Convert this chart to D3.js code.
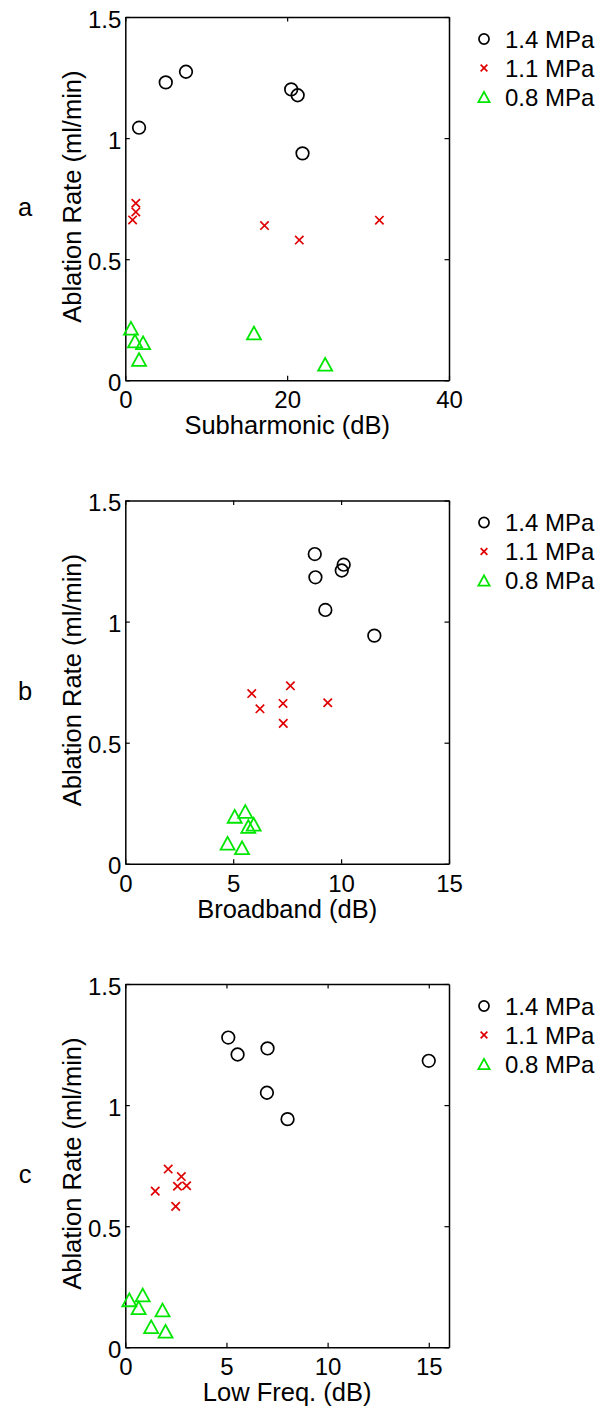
<!DOCTYPE html>
<html><head><meta charset="utf-8">
<script src="https://cdn.jsdelivr.net/npm/d3@7"></script>
<style>
body{margin:0;background:#fff}
svg{display:block}
text{font-family:"Liberation Sans",Arial,Helvetica,sans-serif;fill:#000}
</style>
</head><body>
<svg id="chart" width="611" height="1410"></svg>
<script>
// ---------- data ----------
const seriesLabels = ["1.4 MPa", "1.1 MPa", "0.8 MPa"];
const panelLetters = ["a", "b", "c"];
const xAxisLabels = ["Subharmonic (dB)", "Broadband (dB)", "Low Freq. (dB)"];
const yAxisLabel = "Ablation Rate (ml/min)";
const xDomains = [[0, 40], [0, 15], [0, 16]];
const xTickValues = [[0, 20, 40], [0, 5, 10, 15], [0, 5, 10, 15]];
const yTickValues = [0, 0.5, 1, 1.5];
const yTickLabels = ["0", "0.5", "1", "1.5"];

// panel a : Subharmonic
const subX_14 = [1.7, 5.0, 7.5, 20.5, 21.3, 21.9];
const subY_14 = [1.043, 1.230, 1.274, 1.201, 1.177, 0.937];
const subX_11 = [1.3, 1.3, 0.9, 17.2, 21.5, 31.4];
const subY_11 = [0.731, 0.695, 0.662, 0.639, 0.579, 0.661];
const subX_08 = [0.7, 1.2, 2.2, 1.7, 15.9, 24.7];
const subY_08 = [0.215, 0.162, 0.155, 0.086, 0.195, 0.066];

// panel b : Broadband
const bbX_14 = [8.78, 8.81, 10.12, 10.03, 9.27, 11.54];
const bbY_14 = [1.279, 1.183, 1.235, 1.211, 1.048, 0.942];
const bbX_11 = [5.86, 7.65, 6.24, 7.31, 7.32, 9.38];
const bbY_11 = [0.703, 0.735, 0.640, 0.662, 0.580, 0.665];
const bbX_08 = [5.07, 5.56, 5.95, 5.70, 4.74, 5.41];
const bbY_08 = [0.196, 0.216, 0.163, 0.154, 0.085, 0.066];

// panel c : Low Freq.
const lfX_14 = [5.09, 5.55, 7.03, 7.00, 8.02, 15.0];
const lfY_14 = [1.279, 1.209, 1.234, 1.051, 0.942, 1.183];
const lfX_11 = [2.12, 2.77, 1.48, 2.58, 3.03, 2.49];
const lfY_11 = [0.736, 0.705, 0.645, 0.665, 0.667, 0.582];
const lfX_08 = [0.20, 0.86, 0.66, 1.84, 1.28, 1.99];
const lfY_08 = [0.196, 0.216, 0.163, 0.154, 0.085, 0.066];

const panelData = [
  [[subX_14, subY_14], [subX_11, subY_11], [subX_08, subY_08]],
  [[bbX_14, bbY_14], [bbX_11, bbY_11], [bbX_08, bbY_08]],
  [[lfX_14, lfY_14], [lfX_11, lfY_11], [lfX_08, lfY_08]]
];

// ---------- styling / layout ----------
const colors = ["#000000", "#e00000", "#00e600"];
const markers = ["circle", "cross", "triangle"];
const FONT = 24, LABEL_FONT = 25.5;
const left = 125.3, right = 449, plotH = 363.3;
const panelTops = [17, 500.5, 984];

const svg = d3.select("#chart");
svg.append("rect").attr("width", 611).attr("height", 1410).attr("fill", "#fff");

function drawMarker(g, type, cx, cy, color, s) {
  if (type === "circle") {
    g.append("circle").attr("cx", cx).attr("cy", cy).attr("r", 6.3 * s)
      .attr("fill", "none").attr("stroke", color).attr("stroke-width", 1.7);
  } else if (type === "cross") {
    const h = 4.2 * s;
    g.append("path")
      .attr("d", `M${cx - h},${cy - h}L${cx + h},${cy + h}M${cx - h},${cy + h}L${cx + h},${cy - h}`)
      .attr("fill", "none").attr("stroke", color).attr("stroke-width", 1.7);
  } else {
    const w = 7 * s, hh = 6.4 * s;
    g.append("path")
      .attr("d", `M${cx},${cy - hh}L${cx + w},${cy + hh}L${cx - w},${cy + hh}Z`)
      .attr("fill", "none").attr("stroke", color).attr("stroke-width", 1.8)
      .attr("stroke-linejoin", "miter");
  }
}

panelData.forEach((series, p) => {
  const top = panelTops[p], bottom = top + plotH;
  const x = d3.scaleLinear().domain(xDomains[p]).range([left, right]);
  const y = d3.scaleLinear().domain([0, 1.5]).range([bottom, top]);
  const g = svg.append("g");

  // axes (ticks pointing inward, MATLAB-style box)
  const styleAxis = sel => {
    sel.attr("font-size", null).attr("font-family", null);
    sel.selectAll("path.domain").attr("stroke", "#000").attr("stroke-width", 1.5);
    sel.selectAll(".tick line").attr("stroke", "#000").attr("stroke-width", 1.2);
    sel.selectAll("text").style("font-size", FONT + "px");
  };
  g.append("g").attr("transform", `translate(0,${bottom})`)
    .call(d3.axisBottom(x).tickValues(xTickValues[p]).tickFormat(d3.format("d"))
      .tickSizeInner(-4.5).tickSizeOuter(0).tickPadding(11))
    .call(styleAxis);
  g.append("g").attr("transform", `translate(0,${top})`)
    .call(d3.axisTop(x).tickValues(xTickValues[p]).tickFormat("")
      .tickSizeInner(-4.5).tickSizeOuter(0))
    .call(styleAxis);
  g.append("g").attr("transform", `translate(${left},0)`)
    .call(d3.axisLeft(y).tickValues(yTickValues).tickFormat((d, i) => yTickLabels[i])
      .tickSizeInner(-4.5).tickSizeOuter(0).tickPadding(4))
    .call(styleAxis)
    .selectAll("text").attr("dy", "0.42em");
  g.append("g").attr("transform", `translate(${right},0)`)
    .call(d3.axisRight(y).tickValues(yTickValues).tickFormat("")
      .tickSizeInner(-4.5).tickSizeOuter(0))
    .call(styleAxis);

  // data markers
  series.forEach((xy, s) => {
    const [xs, ys] = xy;
    const mg = g.append("g");
    xs.forEach((xv, i) => drawMarker(mg, markers[s], x(xv), y(ys[i]), colors[s], 1));
  });

  // axis labels
  g.append("text").attr("x", (left + right) / 2).attr("y", bottom + 54)
    .attr("text-anchor", "middle").style("font-size", LABEL_FONT + "px").text(xAxisLabels[p]);
  g.append("text").attr("transform", `translate(81,${(top + bottom) / 2 - 2}) rotate(-90)`)
    .attr("text-anchor", "middle").style("font-size", LABEL_FONT + "px").text(yAxisLabel);

  // panel letter
  g.append("text").attr("x", 25).attr("y", top + 199).attr("text-anchor", "middle")
    .style("font-size", LABEL_FONT + "px").text(panelLetters[p]);

  // legend
  const legRows = [22, 51, 80];
  seriesLabels.forEach((lab, s) => {
    const cy = top + legRows[s];
    drawMarker(g, markers[s], 484, cy, colors[s], 0.8);
    g.append("text").attr("x", 505).attr("y", cy).attr("dy", "0.36em")
      .style("font-size", FONT + "px").text(lab);
  });
});
</script>
</body></html>
